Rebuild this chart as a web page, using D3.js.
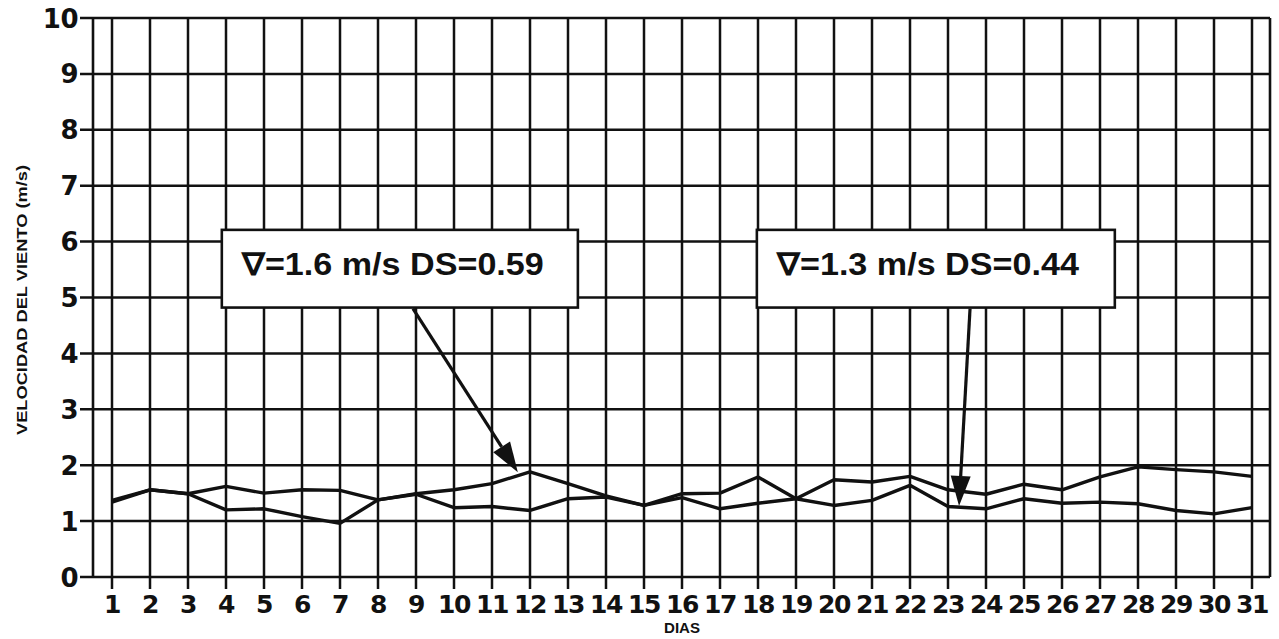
<!DOCTYPE html>
<html><head><meta charset="utf-8">
<script src="https://cdn.jsdelivr.net/npm/d3@7"></script>
<style>body{margin:0;background:#fff;}svg{display:block;}</style>
</head><body>
<svg id="c" width="1279" height="639"></svg>
<script>
const days = d3.range(1, 32);
const yTicks = [0,1,2,3,4,5,6,7,8,9,10];
const seriesA = [1.37,1.56,1.49,1.62,1.50,1.56,1.55,1.38,1.49,1.56,1.67,1.88,1.67,1.45,1.28,1.49,1.50,1.79,1.40,1.74,1.70,1.80,1.56,1.48,1.66,1.56,1.79,1.97,1.92,1.88,1.80];
const seriesB = [1.34,1.56,1.49,1.20,1.22,1.08,0.96,1.38,1.48,1.24,1.26,1.19,1.40,1.43,1.28,1.42,1.22,1.32,1.40,1.28,1.37,1.64,1.26,1.22,1.40,1.32,1.34,1.31,1.19,1.13,1.24];
const annoText = ["\u2207=1.6 m/s DS=0.59", "\u2207=1.3 m/s DS=0.44"];
const annoBox = [[3.89,13.26],[17.97,27.39]];
const annoArrowFrom = [[8.92,4.80],[23.58,4.80]];
const annoArrowTo = [[11.68,1.875],[23.29,1.27]];
const yTitle = "VELOCIDAD DEL VIENTO (m/s)";
const xTitle = "DIAS";

const svg = d3.select("#c");
const x = d3.scaleLinear().domain([1,31]).range([112,1252]);
const y = d3.scaleLinear().domain([0,10]).range([577,18]);
const left = 93, right = 1270;
const ink = "#111";

// horizontal grid + y ticks
svg.append("g").selectAll("line").data(yTicks).join("line")
  .attr("x1",80).attr("x2",right).attr("y1",d=>y(d)).attr("y2",d=>y(d))
  .attr("stroke",ink).attr("stroke-width",2.5);
// vertical grid + x ticks
svg.append("g").selectAll("line").data(days).join("line")
  .attr("x1",d=>x(d)).attr("x2",d=>x(d)).attr("y1",y(10)).attr("y2",589)
  .attr("stroke",ink).attr("stroke-width",2.5);
// frame
svg.append("line").attr("x1",left).attr("x2",left).attr("y1",y(10)).attr("y2",y(0)).attr("stroke",ink).attr("stroke-width",2.6);
svg.append("line").attr("x1",right).attr("x2",right).attr("y1",y(10)).attr("y2",y(0)).attr("stroke",ink).attr("stroke-width",2.6);

// y tick labels
svg.append("g").selectAll("text").data(yTicks).join("text")
  .attr("x",78).attr("y",d=>y(d)+9.5).attr("text-anchor","end")
  .attr("font-family","DejaVu Sans").attr("font-weight","bold").attr("font-size",26)
  .attr("letter-spacing",-0.5)
  .attr("fill",ink).text(d=>d);
// x tick labels
svg.append("g").selectAll("text").data(days).join("text")
  .attr("x",d=>x(d)).attr("y",613).attr("text-anchor","middle")
  .attr("font-family","DejaVu Sans").attr("font-weight","bold").attr("font-size",25)
  .attr("letter-spacing",-1.5)
  .attr("fill",ink).text(d=>d);
// axis titles
svg.append("text").attr("x",682).attr("y",633).attr("text-anchor","middle")
  .attr("font-family","Liberation Sans").attr("font-weight","bold").attr("font-size",15)
  .attr("textLength",36).attr("lengthAdjust","spacingAndGlyphs")
  .attr("fill",ink).text(xTitle);
svg.append("text").attr("transform","translate(27,300) rotate(-90)").attr("text-anchor","middle")
  .attr("font-family","Liberation Sans").attr("font-weight","bold").attr("font-size",15)
  .attr("textLength",270).attr("lengthAdjust","spacingAndGlyphs")
  .attr("fill",ink).text(yTitle);

// data lines
const line = d3.line().x((d,i)=>x(days[i])).y(d=>y(d));
[seriesA, seriesB].forEach(s=>{
  svg.append("path").attr("d",line(s)).attr("fill","none")
    .attr("stroke",ink).attr("stroke-width",3.4).attr("stroke-linejoin","round");
});

// annotation boxes
annoText.forEach((t,i)=>{
  const bx0 = x(annoBox[i][0]), bx1 = x(annoBox[i][1]);
  const by0 = y(6.21), by1 = y(4.82);
  svg.append("rect").attr("x",bx0).attr("y",by0).attr("width",bx1-bx0).attr("height",by1-by0)
    .attr("fill","#fff").attr("stroke",ink).attr("stroke-width",2.6);
  svg.append("text").attr("x",bx0+20).attr("y",y(5.41))
    .attr("font-family","Liberation Sans").attr("font-weight","bold").attr("font-size",31)
    .attr("textLength",302).attr("lengthAdjust","spacingAndGlyphs")
    .attr("fill",ink).text(t);
  // arrow
  const x0 = x(annoArrowFrom[i][0]), y0 = y(annoArrowFrom[i][1]);
  const x1 = x(annoArrowTo[i][0]), y1 = y(annoArrowTo[i][1]);
  const ang = Math.atan2(y1-y0, x1-x0);
  const hl = 30, hw = 10;
  const bxp = x1 - hl*Math.cos(ang), byp = y1 - hl*Math.sin(ang);
  svg.append("line").attr("x1",x0).attr("y1",y0).attr("x2",bxp).attr("y2",byp)
    .attr("stroke",ink).attr("stroke-width",3.2);
  const px = -Math.sin(ang), py = Math.cos(ang);
  svg.append("path").attr("d",`M${x1},${y1}L${bxp+hw*px},${byp+hw*py}L${bxp-hw*px},${byp-hw*py}Z`)
    .attr("fill",ink);
});
</script>
</body></html>
